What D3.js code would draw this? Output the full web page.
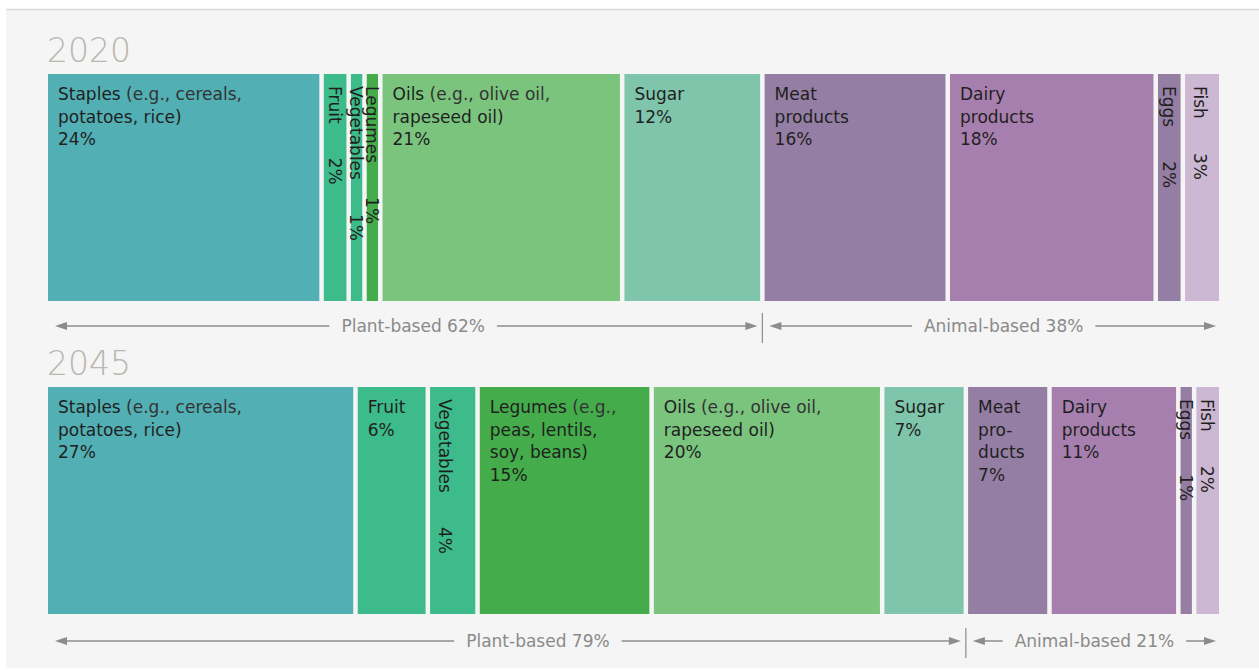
<!DOCTYPE html>
<html><head><meta charset="utf-8">
<script src="https://cdn.jsdelivr.net/npm/d3@7"></script>
<style>
html,body{margin:0;padding:0;background:#fff;}
svg{display:block;font-family:"DejaVu Sans",sans-serif;}
</style></head><body>
<svg id="chart" width="1259" height="670"></svg>
<script>
// ---------- DATA ----------
const categories = ["Staples","Fruit","Vegetables","Legumes","Oils","Sugar","Meat products","Dairy products","Eggs","Fish"];
const groups = ["plant","plant","plant","plant","plant","plant","animal","animal","animal","animal"];
const colors = ["#52afb3","#3dbb8a","#3dbb8a","#44ac4a","#7ac47e","#7fc5ac","#957ea3","#a77fae","#957ea3","#cdb8d3"];
const years = ["2020","2045"];
const values2020 = [24,2,1,1,21,12,16,18,2,3];
const values2045 = [27,6,4,15,20,7,7,11,1,2];
// reported group totals (rounded in the source)
const plantShares = [62, 79];
const animalShares = [38, 21];
// label text lines (null = vertical label using short name)
const shortNames = ["Staples","Fruit","Vegetables","Legumes","Oils","Sugar","Meat","Dairy","Eggs","Fish"];
const lines2020 = [
  ["Staples| (e.g., cereals,","potatoes, rice)"],
  null, null, null,
  ["Oils| (e.g., olive oil,","rapeseed oil)"],
  ["Sugar"],
  ["Meat","products"],
  ["Dairy","products"],
  null, null
];
const lines2045 = [
  ["Staples| (e.g., cereals,","potatoes, rice)"],
  ["Fruit"],
  null,
  ["Legumes| (e.g.,","peas, lentils,","soy, beans)"],
  ["Oils| (e.g., olive oil,","rapeseed oil)"],
  ["Sugar"],
  ["Meat","pro-","ducts"],
  ["Dairy","products"],
  null, null
];

// ---------- LAYOUT ----------
const svg = d3.select("#chart");
const left = 48, right = 1219, gap = 4.5, barH = 227;
const x = d3.scaleLinear().domain([0,100]).range([0, (right-left) - gap*(categories.length-1)]);
const textDark = "#1f1f1f", textGray = "#8a8a8a", lineGray = "#8c8c8c";

svg.append("rect").attr("x",6).attr("y",10).attr("width",1253).attr("height",658).attr("fill","#f4f5f4");
svg.append("line").attr("x1",6).attr("x2",1259).attr("y1",9.5).attr("y2",9.5).attr("stroke","#dcdcdc").attr("stroke-width",1.5);

const rows = [
  {year: years[0], values: values2020, lines: lines2020, top: 74,  plant: plantShares[0], animal: animalShares[0], plantDx: 7,  animalDx: 11, ady: 25},
  {year: years[1], values: values2045, lines: lines2045, top: 387, plant: plantShares[1], animal: animalShares[1], plantDx: 30, animalDx: 0, ady: 27}
];

rows.forEach(row => {
  const g = svg.append("g");
  const cum = d3.cumsum([0, ...row.values]);
  const segs = row.values.map((v,i) => ({
    i, v, x0: left + x(cum[i]) + i*gap, w: x(v)
  }));

  g.append("text").attr("x", left - 1).attr("y", row.top - 12)
    .attr("font-size", 33).attr("font-weight", 300).attr("fill", "#bab6b0")
    .text(row.year);

  g.selectAll("rect.seg").data(segs).join("rect").attr("class","seg")
    .attr("x", d => d.x0).attr("y", row.top).attr("width", d => d.w).attr("height", barH)
    .attr("fill", d => colors[d.i]);

  segs.forEach(d => {
    const lines = row.lines[d.i];
    if (lines) {
      const t = g.append("text").attr("font-size", 17).attr("fill", textDark);
      const all = [...lines, d.v + "%"];
      all.forEach((ln, k) => {
        const parts = ln.split("|");
        const y = row.top + 26 + k*22.5;
        t.append("tspan").attr("x", d.x0 + 10).attr("y", y).text(parts[0]);
        if (parts[1]) t.append("tspan").attr("fill", "#333").text(parts[1]);
      });
    } else {
      const cx = d.x0 + Math.min(d.w/2, 15) - 1.5;
      const bx = cx - 5;
      const gg = g.append("g").attr("transform", `translate(${bx},${row.top + 12}) rotate(90)`);
      const nt = gg.append("text").attr("x",0).attr("y",0).attr("font-size",17).attr("fill",textDark).text(shortNames[d.i]);
      const len = nt.node().getComputedTextLength();
      gg.append("text").attr("x", len + 34).attr("y", 0).attr("font-size",17).attr("fill",textDark).text(d.v + "%");
    }
  });

  // plant / animal annotation
  const firstAnimal = groups.indexOf("animal");
  const divX = segs[firstAnimal].x0 - gap/2;
  const ay = row.top + barH + row.ady;
  g.append("line").attr("x1",divX).attr("x2",divX).attr("y1",ay-13).attr("y2",ay+17)
    .attr("stroke",lineGray).attr("stroke-width",1.2);

  function arrow(x1, x2, label, dx) {
    const mid = (x1+x2)/2 + dx;
    const t = g.append("text").attr("x", mid).attr("y", ay+6).attr("text-anchor","middle")
      .attr("font-size",17).attr("fill",textGray).text(label);
    const L = t.node().getComputedTextLength();
    g.append("line").attr("x1",x1+6).attr("x2",mid-L/2-12).attr("y1",ay).attr("y2",ay)
      .attr("stroke",lineGray).attr("stroke-width",1.5);
    g.append("line").attr("x1",mid+L/2+12).attr("x2",x2-6).attr("y1",ay).attr("y2",ay)
      .attr("stroke",lineGray).attr("stroke-width",1.5);
    g.append("path").attr("d",`M${x1},${ay} L${x1+12},${ay-4} L${x1+12},${ay+4} Z`).attr("fill",lineGray);
    g.append("path").attr("d",`M${x2},${ay} L${x2-12},${ay-4} L${x2-12},${ay+4} Z`).attr("fill",lineGray);
  }
  arrow(55, divX-5, `Plant-based ${row.plant}%`, row.plantDx);
  arrow(divX+7, 1216, `Animal-based ${row.animal}%`, row.animalDx);
});
</script>
</body></html>
